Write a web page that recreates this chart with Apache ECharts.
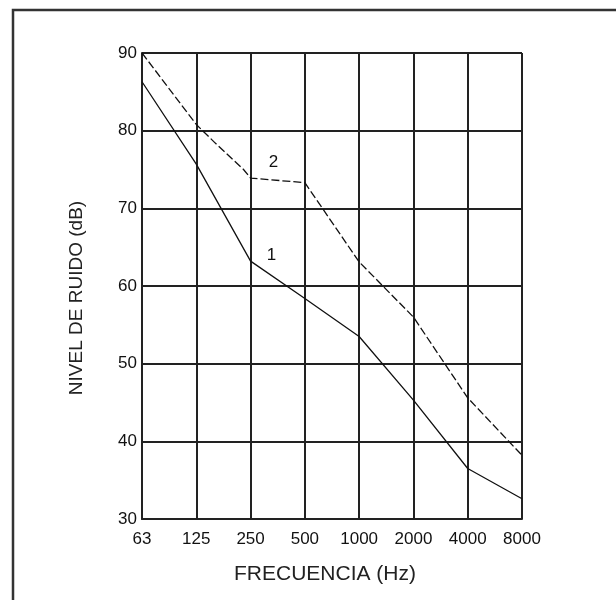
<!DOCTYPE html>
<html>
<head>
<meta charset="utf-8">
<script src="https://cdn.jsdelivr.net/npm/echarts@6/dist/echarts.min.js"></script>
<style>
  html, body { margin: 0; padding: 0; background: #fff; }
  #chart { width: 616px; height: 600px; }
</style>
</head>
<body>
<div id="chart"></div>
<script>
// Octave-band centre frequencies (Hz), one per vertical grid line
const freqLabels = ['63', '125', '250', '500', '1000', '2000', '4000', '8000'];

// Noise level (dB) per band position; x is the band index
const curve1 = [[0, 86.3], [1, 75.7], [2, 63.2], [3, 58.4], [4, 53.5], [5, 45.3], [6, 36.5], [7, 32.6]];
const curve2 = [[0, 90.0], [1, 80.8], [1.35, 78.4], [1.87, 75.0], [2, 73.9], [3, 73.3], [4, 63.1], [5, 56.0], [6, 45.6], [7, 38.2]];

// Level axis range and step
const levelMin = 30;
const levelMax = 90;
const levelStep = 10;

const ink = '#222';
const font = 'Arial, "Liberation Sans", sans-serif';

const chart = echarts.init(document.getElementById('chart'), null, { renderer: 'canvas' });

// Attach a curve number beside one chosen point
function withTag(data, idx, tag, offset) {
  return data.map((p, i) => i === idx
    ? { value: p, label: { show: true, formatter: tag, offset: offset, position: 'inside',
        color: '#111', fontSize: 17, fontFamily: font } }
    : { value: p });
}

const option = {
  backgroundColor: '#fff',
  animation: false,
  grid: { left: 142, top: 53, width: 380, height: 466, containLabel: false },
  xAxis: {
    type: 'value',
    min: 0,
    max: freqLabels.length - 1,
    interval: 1,
    axisLine: { show: true, lineStyle: { color: ink, width: 2 } },
    axisTick: { show: false },
    splitLine: { show: true, lineStyle: { color: ink, width: 2 } },
    axisLabel: {
      margin: 12,
      color: '#111',
      fontSize: 17,
      fontFamily: font,
      formatter: v => freqLabels[v]
    }
  },
  yAxis: {
    type: 'value',
    min: levelMin,
    max: levelMax,
    interval: levelStep,
    axisLine: { show: true, lineStyle: { color: ink, width: 2 } },
    axisTick: { show: false },
    splitLine: { show: true, lineStyle: { color: ink, width: 2 } },
    axisLabel: {
      margin: 5,
      color: '#111',
      fontSize: 17,
      fontFamily: font,
      padding: [0, 0, 10, 0]
    }
  },
  series: [
    {
      name: '1',
      type: 'line',
      data: withTag(curve1, 2, '1', [21, -6]),
      symbol: 'circle',
      symbolSize: 0,
      showSymbol: true,
      lineStyle: { color: '#111', width: 1.3, type: 'solid' },
      itemStyle: { color: '#111' },
      z: 5
    },
    {
      name: '2',
      type: 'line',
      data: withTag(curve2, 4, '2', [23, -16]),
      symbol: 'circle',
      symbolSize: 0,
      showSymbol: true,
      lineStyle: { color: '#111', width: 1.3, type: [8, 3] },
      itemStyle: { color: '#111' },
      z: 5
    }
  ],
  graphic: [
    {
      type: 'rect',
      shape: { x: 13, y: 10, width: 640, height: 640 },
      style: { fill: 'none', stroke: '#333', lineWidth: 2.5 },
      silent: true
    },
    {
      type: 'text',
      x: 325,
      y: 574,
      style: {
        text: 'FRECUENCIA (Hz)',
        font: '21px ' + font,
        fill: '#222',
        align: 'center',
        verticalAlign: 'middle'
      }
    },
    {
      type: 'text',
      x: 77,
      y: 298,
      rotation: Math.PI / 2,
      style: {
        text: 'NIVEL DE RUIDO (dB)',
        font: '19px ' + font,
        fill: '#222',
        align: 'center',
        verticalAlign: 'middle'
      }
    }
  ]
};

chart.setOption(option);
</script>
</body>
</html>
